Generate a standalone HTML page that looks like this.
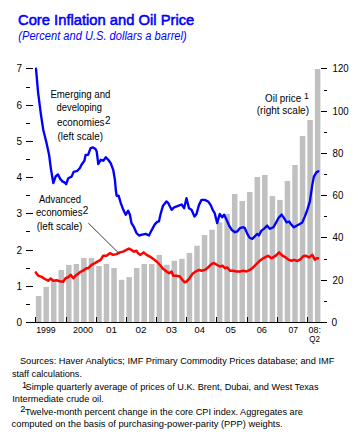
<!DOCTYPE html>
<html><head><meta charset="utf-8"><style>
html,body{margin:0;padding:0;background:#fff;}
svg{display:block;}
text{font-family:"Liberation Sans",sans-serif;fill:#000;stroke:none;}
.ax{font-size:10px;}
.xl{font-size:9px;}
.lb{font-size:10px;}
.sup{font-size:10px;}
.fn{font-size:9.5px;}
.fsup{font-size:9.2px;}
</style></head><body>
<svg width="362" height="442" viewBox="0 0 362 442">
<text x="18" y="24.6" textLength="176.3" lengthAdjust="spacingAndGlyphs" style="font-size:15.3px;fill:#0000ff;stroke:#0000ff;stroke-width:0.55">Core Inflation and Oil Price</text>
<text x="18.3" y="40.2" textLength="168.4" lengthAdjust="spacingAndGlyphs" style="font-size:12px;font-style:italic;fill:#0000ff">(Percent and U.S. dollars a barrel)</text>
<g fill="#c0c0c0">
<rect x="35.90" y="296" width="5.5" height="26.50"/>
<rect x="43.44" y="286.8" width="5.5" height="35.70"/>
<rect x="50.98" y="281.5" width="5.5" height="41.00"/>
<rect x="58.52" y="270" width="5.5" height="52.50"/>
<rect x="66.06" y="265" width="5.5" height="57.50"/>
<rect x="73.60" y="264" width="5.5" height="58.50"/>
<rect x="81.14" y="258" width="5.5" height="64.50"/>
<rect x="88.68" y="258" width="5.5" height="64.50"/>
<rect x="96.22" y="266" width="5.5" height="56.50"/>
<rect x="103.76" y="264" width="5.5" height="58.50"/>
<rect x="111.30" y="268" width="5.5" height="54.50"/>
<rect x="118.84" y="279.8" width="5.5" height="42.70"/>
<rect x="126.38" y="277.1" width="5.5" height="45.40"/>
<rect x="133.92" y="268" width="5.5" height="54.50"/>
<rect x="141.46" y="264" width="5.5" height="58.50"/>
<rect x="149.00" y="264" width="5.5" height="58.50"/>
<rect x="156.54" y="254.9" width="5.5" height="67.60"/>
<rect x="164.08" y="264.8" width="5.5" height="57.70"/>
<rect x="171.62" y="260.8" width="5.5" height="61.70"/>
<rect x="179.16" y="258.8" width="5.5" height="63.70"/>
<rect x="186.70" y="252.9" width="5.5" height="69.60"/>
<rect x="194.24" y="245.7" width="5.5" height="76.80"/>
<rect x="201.78" y="235" width="5.5" height="87.50"/>
<rect x="209.32" y="229.7" width="5.5" height="92.80"/>
<rect x="216.86" y="222.5" width="5.5" height="100.00"/>
<rect x="224.40" y="214" width="5.5" height="108.50"/>
<rect x="231.94" y="194" width="5.5" height="128.50"/>
<rect x="239.48" y="201" width="5.5" height="121.50"/>
<rect x="247.02" y="192" width="5.5" height="130.50"/>
<rect x="254.56" y="177" width="5.5" height="145.50"/>
<rect x="262.10" y="175" width="5.5" height="147.50"/>
<rect x="269.64" y="196.1" width="5.5" height="126.40"/>
<rect x="277.18" y="199.9" width="5.5" height="122.60"/>
<rect x="284.72" y="181" width="5.5" height="141.50"/>
<rect x="292.26" y="165" width="5.5" height="157.50"/>
<rect x="299.80" y="136" width="5.5" height="186.50"/>
<rect x="307.34" y="120" width="5.5" height="202.50"/>
<rect x="314.88" y="69" width="5.5" height="253.50"/>
</g>
<line x1="26" y1="322.5" x2="327" y2="322.5" stroke="#000" stroke-width="1"/>
<g stroke="#000" stroke-width="1">
<line x1="26" y1="322.5" x2="33" y2="322.5"/>
<text x="22" y="326.10" text-anchor="end" class="ax">0</text>
<line x1="26" y1="304.5" x2="30" y2="304.5"/>
<line x1="26" y1="286.5" x2="33" y2="286.5"/>
<text x="22" y="290.10" text-anchor="end" class="ax">1</text>
<line x1="26" y1="268.5" x2="30" y2="268.5"/>
<line x1="26" y1="250.5" x2="33" y2="250.5"/>
<text x="22" y="254.10" text-anchor="end" class="ax">2</text>
<line x1="26" y1="231.5" x2="30" y2="231.5"/>
<line x1="26" y1="213.5" x2="33" y2="213.5"/>
<text x="22" y="217.10" text-anchor="end" class="ax">3</text>
<line x1="26" y1="195.5" x2="30" y2="195.5"/>
<line x1="26" y1="177.5" x2="33" y2="177.5"/>
<text x="22" y="181.10" text-anchor="end" class="ax">4</text>
<line x1="26" y1="159.5" x2="30" y2="159.5"/>
<line x1="26" y1="141.5" x2="33" y2="141.5"/>
<text x="22" y="145.10" text-anchor="end" class="ax">5</text>
<line x1="26" y1="123.5" x2="30" y2="123.5"/>
<line x1="26" y1="105.5" x2="33" y2="105.5"/>
<text x="22" y="109.10" text-anchor="end" class="ax">6</text>
<line x1="26" y1="87.5" x2="30" y2="87.5"/>
<line x1="26" y1="68.5" x2="33" y2="68.5"/>
<text x="22" y="72.10" text-anchor="end" class="ax">7</text>
<line x1="321" y1="322.5" x2="327" y2="322.5"/>
<text x="331.6" y="326.10" textLength="5.6" lengthAdjust="spacingAndGlyphs" class="ax">0</text>
<line x1="324" y1="301.5" x2="327" y2="301.5"/>
<line x1="321" y1="280.5" x2="327" y2="280.5"/>
<text x="332.6" y="284.10" textLength="10.8" lengthAdjust="spacingAndGlyphs" class="ax">20</text>
<line x1="324" y1="259.5" x2="327" y2="259.5"/>
<line x1="321" y1="237.5" x2="327" y2="237.5"/>
<text x="332.6" y="241.10" textLength="10.8" lengthAdjust="spacingAndGlyphs" class="ax">40</text>
<line x1="324" y1="216.5" x2="327" y2="216.5"/>
<line x1="321" y1="195.5" x2="327" y2="195.5"/>
<text x="332.6" y="199.10" textLength="10.8" lengthAdjust="spacingAndGlyphs" class="ax">60</text>
<line x1="324" y1="174.5" x2="327" y2="174.5"/>
<line x1="321" y1="153.5" x2="327" y2="153.5"/>
<text x="332.6" y="157.10" textLength="10.8" lengthAdjust="spacingAndGlyphs" class="ax">80</text>
<line x1="324" y1="132.5" x2="327" y2="132.5"/>
<line x1="321" y1="111.5" x2="327" y2="111.5"/>
<text x="332.6" y="115.10" textLength="16.0" lengthAdjust="spacingAndGlyphs" class="ax">100</text>
<line x1="324" y1="90.5" x2="327" y2="90.5"/>
<line x1="321" y1="68.5" x2="327" y2="68.5"/>
<text x="332.6" y="72.10" textLength="16.0" lengthAdjust="spacingAndGlyphs" class="ax">120</text>
<line x1="35.5" y1="317" x2="35.5" y2="322"/>
<line x1="66.5" y1="317" x2="66.5" y2="322"/>
<line x1="96.5" y1="317" x2="96.5" y2="322"/>
<line x1="126.5" y1="317" x2="126.5" y2="322"/>
<line x1="156.5" y1="317" x2="156.5" y2="322"/>
<line x1="186.5" y1="317" x2="186.5" y2="322"/>
<line x1="216.5" y1="317" x2="216.5" y2="322"/>
<line x1="247.5" y1="317" x2="247.5" y2="322"/>
<line x1="277.5" y1="317" x2="277.5" y2="322"/>
<line x1="307.5" y1="317" x2="307.5" y2="322"/>
</g>
<polyline fill="none" stroke="#ff0000" stroke-width="2.5" stroke-linejoin="round" stroke-linecap="round" points="35.8,272.4 38.3,275.7 41.6,276.9 44.9,279 48.2,280.7 50.7,278.5 53.2,280.7 56.5,280.3 59.8,281.2 63.2,281.8 65.6,278.2 68.1,277.3 70.6,274.9 73.4,278.2 76.4,274.9 79.7,272.4 83,270.7 86.4,268.2 88.3,268.2 91.6,264.8 94.9,263.2 98.3,261.2 100.7,259.9 103.2,255.7 106.5,255.7 109.9,253.2 113.2,254.9 116.5,254.1 119.8,252.4 123.1,251.6 126.4,249.9 128.9,248.6 131.4,249.9 133.9,251.6 136.4,250.7 138,253.2 140.5,254.9 143.6,252.4 146.6,254.9 149.9,256.6 153.3,259.1 156.6,261.5 160,265 163.3,269.1 166.6,271.6 169.1,273.2 171.6,271.6 173.3,275.7 176.6,275.7 179.9,276.5 182.4,279.9 184.5,282.3 186.5,281.5 189,279 192.3,274.1 195.6,271.6 199,269.9 201.4,270.7 204.8,269.9 208.1,267.4 211.4,264.1 213.9,263 217.2,265 220,266.5 222.5,265.7 224.9,268.2 227.4,267.4 229.9,270.7 233.2,270.7 236.5,271.5 239.9,271.5 243.2,270.7 246.5,271.5 249.8,269.9 253.1,267.4 256.4,264.1 259.8,260.7 263.1,258.3 266.4,256.6 268,255.8 271.4,258.3 275.8,255.7 279.1,252.4 282.4,255.7 285.7,257.4 289.1,259.9 291.5,260.7 294,259.9 297.3,261 300.7,259.1 303.2,256.2 305.6,255.7 309,257.4 312.3,254.9 314.8,259.6 317.2,258.2 318.1,258.2"/>
<polyline fill="none" stroke="#0000ff" stroke-width="2.35" stroke-linejoin="round" stroke-linecap="round" points="36,68.7 38.1,92.6 40.9,114.3 43.3,130 46.6,143.3 49.1,154.9 50.8,168.1 53.3,183 55.7,176.4 57.9,174.4 60.2,178.9 62.4,181.4 64.9,182.6 66.2,184.2 68.3,178.2 71.6,176.6 73.7,171.8 77.4,170.8 79.9,168 81.5,164.8 84.4,160.8 85.6,154.9 88.1,154.9 90.6,148.2 93,147.4 95.5,149 96.7,151.5 98.3,164 100.8,159.8 103.3,160.7 105.8,157.3 108.3,159.8 110.7,163.2 113.2,169.8 114.9,179.7 115.8,190 116.6,195.7 118.6,195.7 120.8,203.2 123.3,209.8 125.7,214.8 128.2,210.7 129.9,214.8 131.5,223.1 134,227.2 136.5,233 139,235.5 142.3,234.7 145.6,233.9 149,235.5 151.4,230.6 154.8,224.4 157.2,221.9 158.9,221.4 160.6,214 163,205.7 166.4,201.5 168.3,203.2 171.6,209.8 174.1,207.3 177.4,206.2 181.6,204.5 184.1,208.2 186.5,198.2 189,208.2 191.5,209.8 194.5,216.5 196.5,214 199,204.9 201.5,199.9 204.8,199.9 208.1,201.5 210.6,204.9 213.1,210.7 214.7,213.2 217.2,223.1 219.7,214 222.2,217.3 224.1,214.8 226.6,219.8 229.1,225.6 231.6,229.7 234.9,232.2 237.4,231.4 239.9,228.1 243.2,227.2 244.9,228.1 247.3,233.9 249.8,238 252.3,238.8 254.8,236.4 257.3,233.9 258.9,235.5 261.4,230.6 263.9,228.9 267.2,225.6 269.7,228.9 273.3,227.3 275.8,223.2 278.3,218.2 281.6,214.6 284.1,218.2 286.6,222.4 289.1,221.5 291.5,224.9 294,227.3 296.5,225.7 299.8,224 302.3,222.4 304.8,216.6 307.3,209.9 309.8,201.7 312.3,184.9 313.9,176.6 316.4,172.4 318.4,171.3"/>
<line x1="88.3" y1="223.1" x2="119.5" y2="253.9" stroke="#333" stroke-width="0.95"/>
<text x="36.2" y="333" textLength="19.4" lengthAdjust="spacingAndGlyphs" class="xl">1999</text>
<text x="73.1" y="333" textLength="20.0" lengthAdjust="spacingAndGlyphs" class="xl">2000</text>
<text x="106" y="333" textLength="11.1" lengthAdjust="spacingAndGlyphs" class="xl">01</text>
<text x="135.6" y="333" textLength="11.0" lengthAdjust="spacingAndGlyphs" class="xl">02</text>
<text x="166" y="333" textLength="11.0" lengthAdjust="spacingAndGlyphs" class="xl">03</text>
<text x="194.5" y="333" textLength="10.4" lengthAdjust="spacingAndGlyphs" class="xl">04</text>
<text x="225.6" y="333" textLength="10.3" lengthAdjust="spacingAndGlyphs" class="xl">05</text>
<text x="256.7" y="333" textLength="10.3" lengthAdjust="spacingAndGlyphs" class="xl">06</text>
<text x="288.6" y="333" textLength="9.5" lengthAdjust="spacingAndGlyphs" class="xl">07</text>
<text x="308.5" y="333" textLength="12.4" lengthAdjust="spacingAndGlyphs" class="xl">08:</text>
<text x="309.3" y="342.2" textLength="10.7" lengthAdjust="spacingAndGlyphs" class="xl">Q2</text>
<text x="50.4" y="98.1" textLength="60.0" lengthAdjust="spacingAndGlyphs" class="lb">Emerging and</text>
<text x="56.6" y="111.1" textLength="45.4" lengthAdjust="spacingAndGlyphs" class="lb">developing</text>
<text x="57" y="125.6" textLength="47.5" lengthAdjust="spacingAndGlyphs" class="lb">economies</text>
<text x="105.1" y="123.8" class="sup">2</text>
<text x="57.6" y="139.5" textLength="45.4" lengthAdjust="spacingAndGlyphs" class="lb">(left scale)</text>
<text x="38.9" y="202.6" textLength="42.0" lengthAdjust="spacingAndGlyphs" class="lb">Advanced</text>
<text x="36" y="216.1" textLength="46.5" lengthAdjust="spacingAndGlyphs" class="lb">economies</text>
<text x="82.8" y="214.4" class="sup">2</text>
<text x="36.7" y="229.8" textLength="45.7" lengthAdjust="spacingAndGlyphs" class="lb">(left scale)</text>
<text x="265.1" y="102.4" textLength="36.1" lengthAdjust="spacingAndGlyphs" class="lb">Oil price</text>
<text x="303.9" y="98.9" class="sup" style="font-size:8.8px">1</text>
<text x="256.8" y="114" textLength="52.2" lengthAdjust="spacingAndGlyphs" class="lb">(right scale)</text>
<text x="19.9" y="363.9" textLength="314.4" lengthAdjust="spacingAndGlyphs" class="fn">Sources: Haver Analytics; IMF Primary Commodity Prices database; and IMF</text>
<text x="11.9" y="376.6" textLength="70.1" lengthAdjust="spacingAndGlyphs" class="fn">staff calculations.</text>
<text x="21.9" y="388.2" class="fsup">1</text>
<text x="25.6" y="390.1" textLength="292.9" lengthAdjust="spacingAndGlyphs" class="fn">Simple quarterly average of prices of U.K. Brent, Dubai, and West Texas</text>
<text x="12.3" y="402.3" textLength="91.5" lengthAdjust="spacingAndGlyphs" class="fn">Intermediate crude oil.</text>
<text x="20.2" y="411.9" class="fsup">2</text>
<text x="24.9" y="415.1" textLength="277.9" lengthAdjust="spacingAndGlyphs" class="fn">Twelve-month percent change in the core CPI index. Aggregates are</text>
<text x="11.6" y="427.0" textLength="271.1" lengthAdjust="spacingAndGlyphs" class="fn">computed on the basis of purchasing-power-parity (PPP) weights.</text>
</svg>
</body></html>
